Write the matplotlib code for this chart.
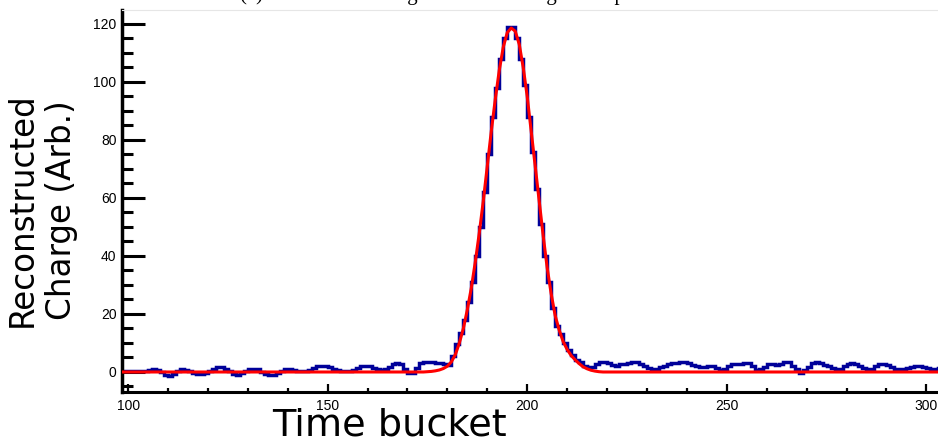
import numpy as np
import matplotlib
matplotlib.use('Agg')
import matplotlib.pyplot as plt
from matplotlib.ticker import MultipleLocator

# reconstructed charge per time bucket, first bin starts at 98
first_bucket = 98
charge = [
    0.3, 0.3, 0.2, 0.2, 0.3, 0.3, 0.5, 0.8, 0.9, 0.6,          # 98-107
    0.0, -1.2, -1.5, -0.8, 0.3, 0.9, 0.8, 0.2, -0.4, -0.7,      # 108-117
    -0.7, -0.3, 0.4, 1.2, 1.6, 1.6, 1.0, 0.2, -0.6, -0.9,       # 118-127
    -0.5, 0.3, 1.0, 1.2, 0.9, 0.1, -0.6, -1.0, -1.0, -0.5,      # 128-137
    0.3, 1.0, 1.2, 0.8, 0.4, 0.2, 0.2, 0.6, 1.3, 1.9,           # 138-147
    2.1, 2.1, 1.7, 1.2, 0.8, 0.5, 0.3, 0.4, 0.8, 1.4,           # 148-157
    1.9, 2.0, 1.9, 1.5, 1.0, 0.7, 0.9, 1.6, 2.6, 3.2,           # 158-167
    2.8, 1.2, -0.4, -0.3, 1.5, 3.0, 3.3, 3.3, 3.3, 3.2,         # 168-177
    3.0, 2.6, 2.5, 5.5, 9.5, 13.5, 18, 24, 31, 40,              # 178-187
    50, 62, 75, 88, 98, 108, 115, 119, 119, 115,                # 188-197
    108, 99, 88, 76, 63, 51, 40, 31, 22, 16,                    # 198-207
    13, 10, 7.5, 5.8, 4.2, 3.5, 2.0, 1.6, 1.8, 2.6,             # 208-217
    3.4, 3.6, 3.0, 2.4, 2.2, 2.6, 2.9, 3.2, 3.6, 3.4,           # 218-227
    2.8, 2.2, 1.4, 0.9, 1.0, 1.6, 2.1, 2.6, 3.0, 3.2,           # 228-237
    3.3, 3.3, 3.0, 2.4, 2.0, 1.7, 1.6, 1.9, 2.1, 1.5,           # 238-247
    0.7, 1.2, 2.2, 2.6, 2.6, 2.8, 3.2, 3.2, 2.2, 0.7,           # 248-257
    0.9, 1.8, 2.6, 2.6, 2.5, 2.8, 3.3, 3.3, 2.2, 1.0,           # 258-267
    -0.2, 0.8, 1.8, 3.0, 3.6, 3.2, 2.4, 2.1, 1.4, 0.9,          # 268-277
    1.2, 2.0, 2.8, 3.0, 2.6, 2.0, 1.3, 0.9, 1.2, 2.0,           # 278-287
    2.6, 2.8, 2.4, 1.6, 1.0, 0.9, 1.1, 1.4, 1.8, 2.1,           # 288-297
    2.1, 1.8, 1.3, 1.0, 0.9, 1.3, 1.3,                          # 298-304
]

# fitted pulse
fit_x = [98, 174, 175, 176, 177, 178, 179, 180, 181, 182, 183, 184, 185,
         186, 187, 188, 189, 190, 191, 192, 193, 194, 195, 196, 197, 198,
         199, 200, 201, 202, 203, 204, 205, 206, 207, 208, 209, 210, 211,
         212, 213, 214, 215, 216, 217, 218, 219, 305]
fit_y = [0, 0, 0.1, 0.2, 0.4, 0.7, 1.2, 2.0, 3.5, 6, 10, 15, 21.5,
         29, 38, 48, 59, 71, 83, 94, 104, 112, 117, 118.6, 117.5, 113,
         105, 95, 83, 71, 59, 47, 36, 27, 19.5, 14.5, 10.5, 7.8, 5.7,
         4.2, 2.9, 1.8, 1.1, 0.6, 0.3, 0.1, 0, 0]

title = "(c) Reconstructed signal with a fitting to the pulse"


def main():
    fig = plt.figure(figsize=(9.38, 4.41), dpi=100)
    ax = fig.add_axes([0.130, 0.1111, 0.875, 0.8662])

    edges = np.arange(len(charge) + 1) + first_bucket
    ax.stairs(charge, edges, color='#000099', lw=2.5, baseline=None, zorder=2)
    ax.plot(fit_x, fit_y, color='#ff0000', lw=2.2, zorder=3)

    ax.set_xlim(98.46, 304.1)
    ax.set_ylim(-6.9, 124.8)

    ax.spines['right'].set_visible(False)
    ax.spines['top'].set_color('#e6e6e6')
    ax.spines['top'].set_linewidth(0.8)
    ax.spines['left'].set_linewidth(2.5)
    ax.spines['bottom'].set_linewidth(2.2)

    ax.xaxis.set_major_locator(MultipleLocator(50))
    ax.xaxis.set_minor_locator(MultipleLocator(10))
    ax.yaxis.set_major_locator(MultipleLocator(20))
    ax.yaxis.set_minor_locator(MultipleLocator(5))
    ax.tick_params(axis='y', which='major', direction='in', length=16.5, width=2.2, pad=4)
    ax.tick_params(axis='y', which='minor', direction='in', length=8, width=2.2)
    ax.tick_params(axis='x', which='major', direction='in', length=6, width=1.6, pad=5)
    ax.tick_params(axis='x', which='minor', direction='in', length=3, width=1.6)
    for lab in ax.get_xticklabels() + ax.get_yticklabels():
        lab.set_fontfamily('Liberation Sans')
        lab.set_fontsize(10)

    fig.text(0.0448, 0.524, 'Reconstructed\nCharge (Arb.)', rotation=90,
             ha='center', va='center', multialignment='center',
             fontsize=23.5, family='DejaVu Sans', linespacing=1.22)
    fig.text(0.4147, 0.0125, 'Time bucket', ha='center', va='baseline',
             fontsize=27.5, family='DejaVu Sans')
    fig.text(240 / 938, 1.0011, title, ha='left', va='baseline',
             fontsize=15, family='Liberation Serif')

    fig.savefig('out.png', dpi=100)


if __name__ == '__main__':
    main()
